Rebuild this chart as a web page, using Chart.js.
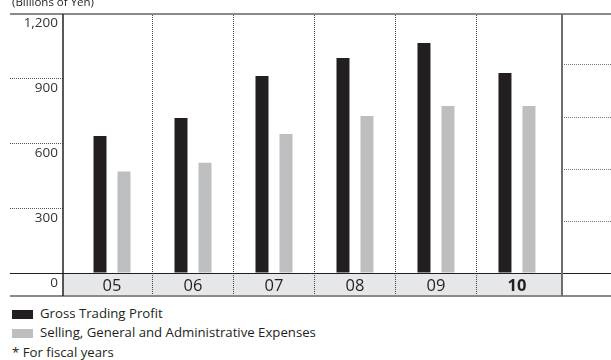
<!DOCTYPE html>
<html>
<head>
<meta charset="utf-8">
<script src="https://cdn.jsdelivr.net/npm/chart.js@4.4.0/dist/chart.umd.min.js"></script>
<style>
  body { margin: 0; background: #fff; font-family: "Open Sans", sans-serif; color: #231f20; }
  #wrap { position: relative; width: 611px; height: 360px; overflow: hidden; }
  #box { position: absolute; left: 0; top: 0; width: 611px; height: 300px; }
  .row { position: absolute; left: 12px; font-size: 13.2px; line-height: 16px; white-space: nowrap; }
  .row i { display: inline-block; width: 21px; height: 9px; margin-right: 7px; vertical-align: -1px; }
</style>
</head>
<body>
<div id="wrap">
  <div id="box"><canvas id="chart"></canvas></div>
  <div id="legend"></div>
</div>
<script>
// Data (fiscal years, billions of yen)
const years = ["05", "06", "07", "08", "09", "10"];
const grossProfit = [632, 715, 909, 992, 1061, 923];
const sgaExpenses = [468, 509, 642, 725, 771, 771];
const yTicks = [0, 300, 600, 900, 1200];
const seriesNames = ["Gross Trading Profit", "Selling, General and Administrative Expenses"];
const note = "* For fiscal years";
const unitLabel = "(Billions of Yen)";

const colors = ["#231f20", "#bcbec0"];
const font = "'Open Sans', sans-serif";
const bandH = 23;

// lines, band and dividers around the plot
const deco = {
  id: "deco",
  beforeDraw(chart) {
    const { ctx, chartArea: a } = chart;
    ctx.save();
    ctx.fillStyle = "#e6e7e8";
    ctx.fillRect(a.left, a.bottom, a.right - a.left, bandH);
    ctx.restore();
  },
  afterDraw(chart) {
    const { ctx, chartArea: a, scales: { x, y } } = chart;
    const W = chart.width;
    ctx.save();

    // dotted dividers between years
    ctx.strokeStyle = "#444";
    ctx.lineWidth = 1;
    ctx.setLineDash([1, 1]);
    for (let i = 0; i < years.length - 1; i++) {
      const px = Math.round(x.getPixelForValue(i + 0.5)) + 0.5;
      ctx.beginPath();
      ctx.moveTo(px, a.top);
      ctx.lineTo(px, a.bottom + bandH);
      ctx.stroke();
    }
    ctx.setLineDash([]);

    // zero line
    const y0 = Math.round(y.getPixelForValue(0)) + 0.5;
    ctx.strokeStyle = "#231f20";
    ctx.beginPath();
    ctx.moveTo(10, y0);
    ctx.lineTo(W, y0);
    ctx.stroke();

    // top and bottom grey rules
    ctx.strokeStyle = "#8a8a8a";
    ctx.lineWidth = 2;
    const yt = Math.round(y.getPixelForValue(yTicks[yTicks.length - 1])) + 1;
    ctx.beginPath();
    ctx.moveTo(10, yt);
    ctx.lineTo(W, yt);
    ctx.moveTo(10, a.bottom + bandH);
    ctx.lineTo(W, a.bottom + bandH);
    ctx.stroke();

    // left axis and right frame line
    ctx.strokeStyle = "#231f20";
    ctx.lineWidth = 1.5;
    ctx.beginPath();
    ctx.moveTo(a.left, yt);
    ctx.lineTo(a.left, a.bottom + bandH);
    ctx.stroke();
    ctx.strokeStyle = "#6d6e71";
    ctx.lineWidth = 2;
    ctx.beginPath();
    ctx.moveTo(a.right, yt);
    ctx.lineTo(a.right, a.bottom + bandH);
    ctx.stroke();

    // unit label
    ctx.fillStyle = "#231f20";
    ctx.font = "11.5px " + font;
    ctx.textBaseline = "alphabetic";
    ctx.fillText(unitLabel, 12, 6);
    ctx.restore();
  }
};

const ctx = document.querySelector("#chart").getContext("2d");

new Chart(ctx, {
  type: "bar",
  data: {
    datasets: [
      {
        label: seriesNames[0],
        data: grossProfit.map((v, i) => ({ x: i, y: v })),
        backgroundColor: colors[0],
      },
      {
        label: seriesNames[1],
        data: sgaExpenses.map((v, i) => ({ x: i, y: v })),
        backgroundColor: colors[1],
      }
    ]
  },
  options: {
    responsive: true,
    maintainAspectRatio: false,
    animation: false,
    categoryPercentage: 48 / 81,
    barPercentage: 13 / 24,
    layout: { padding: { left: 10, right: 0, top: 13, bottom: 4 } },
    plugins: {
      legend: { display: false },
      tooltip: { enabled: false },
      title: { display: false }
    },
    scales: {
      x: {
        type: "linear",
        min: -0.605,
        max: 5.556,
        offset: false,
        afterBuildTicks: s => { s.ticks = years.map((_, i) => ({ value: i })); },
        afterFit: s => { s.height = bandH; },
        grid: { display: false, drawTicks: false },
        border: { display: false },
        ticks: {
          autoSkip: false,
          maxRotation: 0,
          padding: 3,
          color: "#231f20",
          font: c => ({ family: font, size: 16.5, weight: c.index === years.length - 1 ? "700" : "400" }),
          callback: v => years[v]
        }
      },
      y: {
        min: 0,
        max: 1200,
        afterBuildTicks: s => { s.ticks = yTicks.map(v => ({ value: v })); },
        afterFit: s => { s.width = 53; },
        grid: {
          drawOnChartArea: false,
          drawTicks: true,
          tickLength: 53,
          tickColor: "#555",
          tickBorderDash: [1, 1],
          tickWidth: 1
        },
        border: { display: false },
        ticks: {
          padding: -48,
          labelOffset: 10,
          color: "#333",
          font: { family: font, size: 13.5 },
          callback: v => v.toLocaleString("en-US")
        }
      },
      y2: {
        position: "right",
        min: 0,
        max: 5,
        ticks: { display: false, stepSize: 1 },
        afterFit: s => { s.width = 49; },
        grid: {
          drawOnChartArea: false,
          drawTicks: true,
          tickLength: 49,
          tickColor: "#777",
          tickBorderDash: [1, 1],
          tickWidth: 1
        },
        border: { display: false }
      }
    }
  },
  plugins: [deco]
});

// legend below the chart
const legend = document.querySelector("#legend");
const rows = seriesNames.map((name, i) => ({ text: name, color: colors[i] }));
rows.push({ text: note });
const centers = [313, 332, 352];
rows.forEach((r, i) => {
  const div = document.createElement("div");
  div.className = "row";
  div.style.top = (centers[i] - 8) + "px";
  if (r.color) {
    const sw = document.createElement("i");
    sw.style.background = r.color;
    div.appendChild(sw);
  }
  div.appendChild(document.createTextNode(r.text));
  legend.appendChild(div);
});
</script>
</body>
</html>
